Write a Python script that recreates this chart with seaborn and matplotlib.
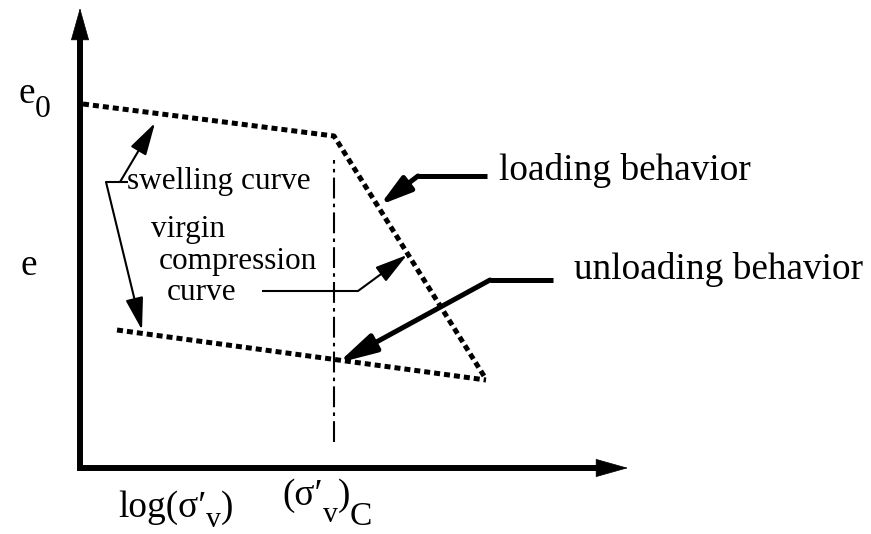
import matplotlib
matplotlib.use("Agg")
import matplotlib.pyplot as plt
import seaborn as sns
import pandas as pd

# Schematic e - log(sigma'_v) consolidation diagram (arbitrary units)
stress_loading = [3, 254, 404]      # swelling branch, then virgin compression
e_loading = [364, 332, 92]
stress_unloading = [37, 406]        # unloading / reloading branch
e_unloading = [138, 88]
sigma_c = 254                       # preconsolidation stress
sigma_c_range = [26, 308]

sns.set_theme(style="white")
plt.rcParams["font.family"] = ["Liberation Serif", "DejaVu Serif"]
plt.rcParams["text.color"] = "black"

fig = plt.figure(figsize=(8.71, 5.34), dpi=100)
ax = fig.add_axes([0, 0, 1, 1])
ax.set_xlim(-80, 791)
ax.set_ylim(-66, 468)
ax.axis("off")

loading = pd.DataFrame({"stress": stress_loading, "e": e_loading})
unloading = pd.DataFrame({"stress": stress_unloading, "e": e_unloading})

dot = (0, (1.2, 0.8))
for frame in (loading, unloading):
    sns.lineplot(data=frame, x="stress", y="e", sort=False, estimator=None,
                 color="black", lw=3.6, ax=ax)
    ax.lines[-1].set_linestyle(dot)
    ax.lines[-1].set_dash_capstyle("butt")

# preconsolidation stress marker
ax.plot([sigma_c, sigma_c], sigma_c_range, color="black", lw=1.5,
        linestyle=(0, (10, 2.5, 1.7, 2.5)))

# coordinate axes with arrowheads
ax.plot([0, 0, 522], [432, 0, 0], color="black", lw=4.3,
        solid_joinstyle="miter", solid_capstyle="butt")
head = dict(arrowstyle="-|>,head_length=2.2,head_width=0.62", mutation_scale=10,
            lw=0.5, color="black", shrinkA=0, shrinkB=0)
ax.annotate("", xy=(0, 460), xytext=(0, 429), arrowprops=head)
ax.annotate("", xy=(548, 0), xytext=(517, 0), arrowprops=head)

big = 26.8
mid = 22.5


def label(x, y, parts):
    """Write a label from (text, drop, scale) pieces, each placed after the previous one."""
    prev = None
    for text, drop, scale in parts:
        if prev is None:
            prev = ax.text(x, y - drop, text, fontsize=big * scale,
                           ha="left", va="baseline")
        else:
            prev = ax.annotate(text, xy=(1, y - drop), xycoords=(prev, "data"),
                               fontsize=big * scale, ha="left", va="baseline",
                               annotation_clip=False)
    return prev


# axis labels
label(-62, 365, [("e", 0, 1.0), ("0", 14, 0.85)])
ax.text(-60, 193, "e", fontsize=big, ha="left", va="baseline")
label(38, -49, [("log(σ′", 0, 1.0), ("v", 10, 0.8), (")", 0, 1.0)])
label(202, -37, [("(σ′", 0, 1.0), ("v", 17, 0.8), (")", 0, 1.0), ("C", 20, 0.9)])

# annotations
ax.text(47, 279, "swelling curve", fontsize=mid, ha="left", va="baseline")
ax.text(71, 231, "virgin", fontsize=mid, ha="left", va="baseline")
ax.text(79, 199, "compression", fontsize=mid, ha="left", va="baseline")
ax.text(87, 168, "curve", fontsize=mid, ha="left", va="baseline")
ax.text(419, 288, "loading behavior", fontsize=big, ha="left", va="baseline")
ax.text(494, 189, "unloading behavior", fontsize=big, ha="left", va="baseline")

thin = dict(arrowstyle="-|>,head_length=2.0,head_width=0.55", mutation_scale=10,
            lw=1.5, color="black", shrinkA=0, shrinkB=0)
thick = dict(arrowstyle="-|>,head_length=1.9,head_width=0.55", mutation_scale=10,
             lw=3.6, color="black", shrinkA=0, shrinkB=0)
thick_long = dict(thick, arrowstyle="-|>,head_length=2.3,head_width=0.58")

# swelling curve leaders
ax.plot([48, 26], [286, 286], color="black", lw=1.5, solid_capstyle="butt")
ax.annotate("", xy=(62, 138), xytext=(26, 286), arrowprops=thin)
ax.annotate("", xy=(75, 345), xytext=(40, 286), arrowprops=thin)

# virgin compression curve leader
ax.plot([182, 278], [177, 177], color="black", lw=1.5, solid_capstyle="butt")
ax.annotate("", xy=(327, 213), xytext=(278, 177), arrowprops=thin)

# loading / unloading leaders
ax.plot([407, 338], [292, 292], color="black", lw=3.6, solid_capstyle="butt")
ax.annotate("", xy=(300, 263), xytext=(338, 292), arrowprops=thick)
ax.plot([473, 410], [188, 188], color="black", lw=3.6, solid_capstyle="butt")
ax.annotate("", xy=(258, 105), xytext=(410, 188), arrowprops=thick_long)

fig.savefig("out.png", dpi=100, facecolor="white")
